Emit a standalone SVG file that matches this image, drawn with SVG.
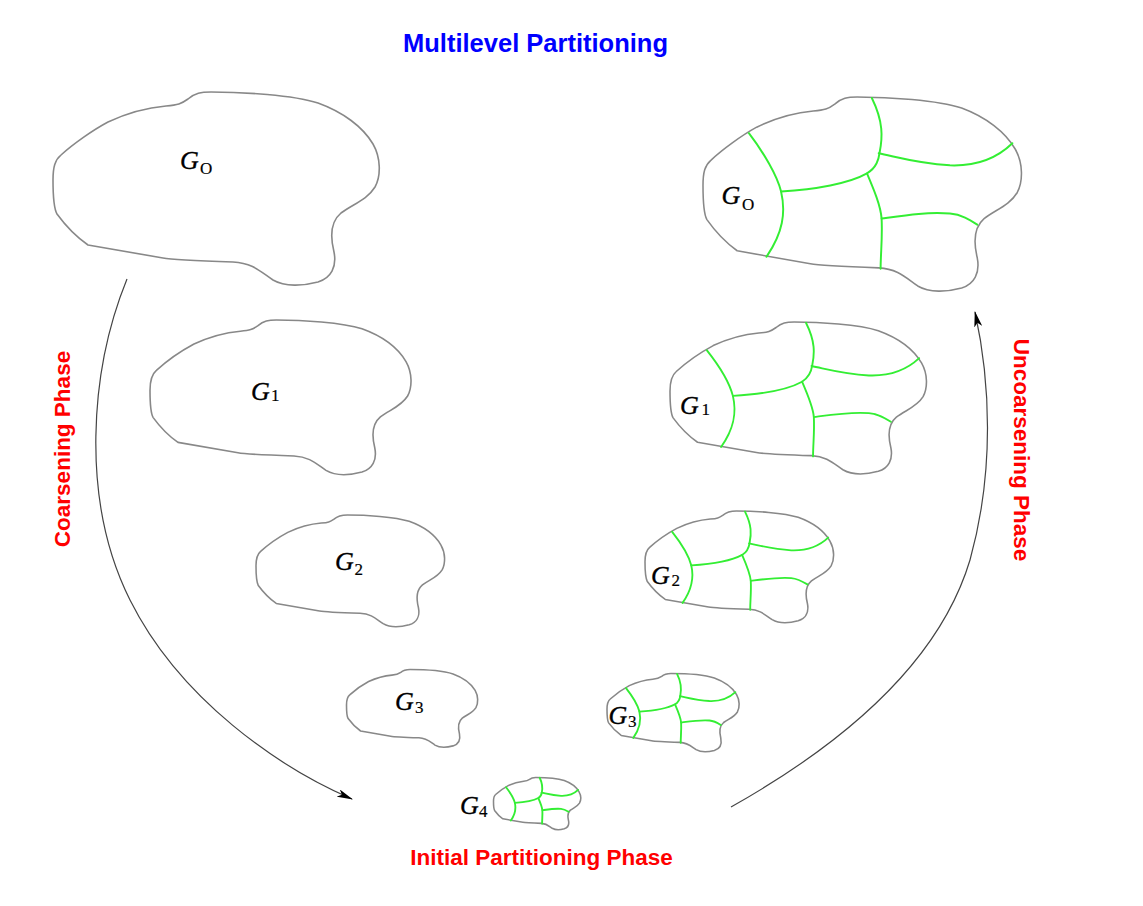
<svg xmlns="http://www.w3.org/2000/svg" xmlns:xlink="http://www.w3.org/1999/xlink" width="1143" height="906" viewBox="0 0 1143 906">
<style>
.outline{fill:#fff;stroke:#888;stroke-linejoin:round}
.part{fill:none;stroke:#33ee33;stroke-linecap:round}
.g{font-family:"Liberation Serif","Times New Roman",serif;font-style:italic;font-size:26px;fill:#000;stroke:#000;stroke-width:0.35}
.sub{font-family:"Liberation Serif","Times New Roman",serif;font-style:normal;font-size:17px;stroke-width:0.2}
.title{font-family:"Liberation Sans",Arial,sans-serif;font-weight:bold;font-size:25.5px;fill:#0000ff}
.phase{font-family:"Liberation Sans",Arial,sans-serif;font-weight:bold;font-size:22.5px;fill:#ff0000}
.arc{fill:none;stroke:#444;stroke-width:1.2}
</style>
<defs>
<path id="blob" class="outline" d="M113,14 C125,13 128,12 135,7 C142,1 148,0 158,0 C190,0 240,3 265,11 C290,20 310,35 320,52 C328,66 328,84 322,95 C314,108 300,112 288,121 C276,131 278,148 281,160 C284,175 278,186 265,190 C250,194 232,195 220,188 C208,180 200,171 180,170 C150,169 120,168 110,166 L35,153 C25,146 12,133 4,122 C0,115 0,100 0,88 C0,75 2,68 8,63 C20,52 40,38 55,30 C70,23 90,16 113,14 Z"/>
<g id="parts" class="part">
<path d="M47,36 C62,55 76,78 80,94 C85,115 82,135 65,159"/>
<path d="M80,94 C115,92 150,86 168,76 C178,70 180,62 181,55 C184,40 185,25 173,1"/>
<path d="M180,56 C200,60 220,66 253,68 C280,69 300,62 317,46"/>
<path d="M168,76 C175,92 182,108 183,121 C184,140 182,155 182,171"/>
<path d="M183,121 C205,118 230,114 253,116 C265,117 273,122 281,127"/>
</g>
<marker id="arrow" viewBox="0 0 16 8" refX="15" refY="4" markerWidth="16" markerHeight="8" markerUnits="userSpaceOnUse" orient="auto">
<path d="M0,0 L16,4 L0,8 L4,4 Z" fill="#000"/>
</marker>
</defs>

<text class="title" x="535.5" y="51.5" text-anchor="middle">Multilevel Partitioning</text>

<g id="connectors">
<path id="coarsen-arc" class="arc" d="M127,279 C90,370 80,500 130,600 C180,700 280,768 352,799" marker-end="url(#arrow)"/>
<path id="uncoarsen-arc" class="arc" d="M731,807 C850,740 940,660 970,560 C995,470 990,380 975,312" marker-end="url(#arrow)"/>
</g>

<g id="left-G0">
<use xlink:href="#blob" href="#blob" transform="translate(53,92)" stroke-width="1.6"/>
<text class="g" x="180" y="168.5">G<tspan class="sub" x="200" y="174">O</tspan></text>
</g>
<g id="left-G1">
<use xlink:href="#blob" href="#blob" transform="translate(150,320) scale(0.8)" stroke-width="2"/>
<text class="g" x="251" y="400">G<tspan class="sub" x="271" y="401">1</tspan></text>
</g>
<g id="left-G2">
<use xlink:href="#blob" href="#blob" transform="translate(256,515) scale(0.578)" stroke-width="2.7"/>
<text class="g" x="335" y="570">G<tspan class="sub" x="354.5" y="575">2</tspan></text>
</g>
<g id="left-G3">
<use xlink:href="#blob" href="#blob" transform="translate(346.5,669.5) scale(0.402)" stroke-width="3.9"/>
<text class="g" x="395" y="709.5">G<tspan class="sub" x="415" y="713">3</tspan></text>
</g>

<g id="right-G0">
<use xlink:href="#blob" href="#blob" transform="translate(703,97) scale(0.976,1.005)" stroke-width="1.6"/>
<use xlink:href="#parts" href="#parts" transform="translate(703,97) scale(0.976,1.005)" stroke-width="2"/>
<text class="g" x="721.5" y="203.5">G<tspan class="sub" x="742" y="210">O</tspan></text>
</g>
<g id="right-G1">
<use xlink:href="#blob" href="#blob" transform="translate(670,322) scale(0.786)" stroke-width="2"/>
<use xlink:href="#parts" href="#parts" transform="translate(670,322) scale(0.786)" stroke-width="2.4"/>
<text class="g" x="680" y="413.5">G<tspan class="sub" x="701.5" y="415">1</tspan></text>
</g>
<g id="right-G2">
<use xlink:href="#blob" href="#blob" transform="translate(645,511) scale(0.578)" stroke-width="2.7"/>
<use xlink:href="#parts" href="#parts" transform="translate(645,511) scale(0.578)" stroke-width="3.2"/>
<text class="g" x="651" y="583.5">G<tspan class="sub" x="671.5" y="585.5">2</tspan></text>
</g>
<g id="right-G3">
<use xlink:href="#blob" href="#blob" transform="translate(607,673.5) scale(0.405)" stroke-width="3.9"/>
<use xlink:href="#parts" href="#parts" transform="translate(607,673.5) scale(0.405)" stroke-width="4.6"/>
<text class="g" x="608.5" y="723.5">G<tspan class="sub" x="628" y="727">3</tspan></text>
</g>
<g id="G4">
<use xlink:href="#blob" href="#blob" transform="translate(493.5,777.5) scale(0.267,0.27)" stroke-width="5.8"/>
<use xlink:href="#parts" href="#parts" transform="translate(493.5,777.5) scale(0.267,0.27)" stroke-width="7"/>
<text class="g" x="460" y="814">G<tspan class="sub" x="479" y="817">4</tspan></text>
</g>

<text class="phase" x="541.5" y="865" text-anchor="middle">Initial Partitioning Phase</text>
<text class="phase" transform="translate(69.5,449) rotate(-90)" text-anchor="middle">Coarsening Phase</text>
<text class="phase" transform="translate(1014,450) rotate(90)" text-anchor="middle">Uncoarsening Phase</text>
</svg>
